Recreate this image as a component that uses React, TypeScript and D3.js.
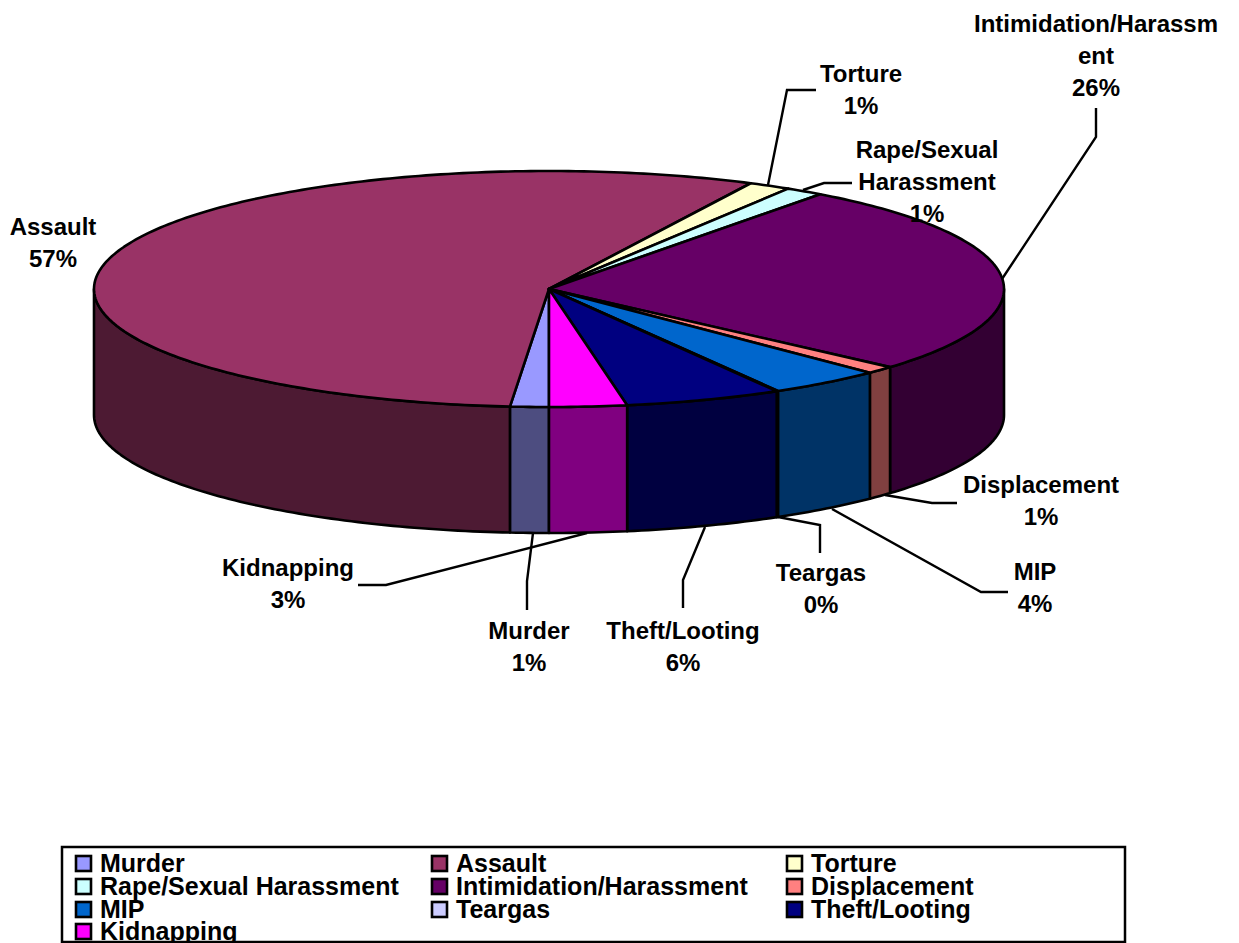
import React from "react";
import * as d3 from "d3";

const categories = ["Murder","Assault","Torture","Rape/Sexual Harassment","Intimidation/Harassment","Displacement","MIP","Teargas","Theft/Looting","Kidnapping"];
const shares = [1.37,56,1.5,1.36,26.37,1.03,4.07,0.05,5.6,2.75];
const percentLabels = ["1%","57%","1%","1%","26%","1%","4%","0%","6%","3%"];
const topColors = ["#9999FF","#993366","#FFFFCC","#CCFFFF","#660066","#FF8080","#0066CC","#CCCCFF","#000080","#FF00FF"];
const labelLines = [["Murder"],["Assault"],["Torture"],["Rape/Sexual","Harassment"],["Intimidation/Harassm","ent"],["Displacement"],["MIP"],["Teargas"],["Theft/Looting"],["Kidnapping"]];

// layout
const W = 1239, H = 943;
const CX = 549, CY = 289, RX = 455, RY = 118, DEPTH = 126;
const labelCentre: [number, number][] = [[529,639],[53,235],[861,82],[927,158],[1096,32],[1041,493],[1035,580],[821,581],[683,639],[288,576]];
const leaders: (number[][] | null)[] = [
  [[533,533],[527,581],[527,610]],
  null,
  [[768,185],[787,90],[816,90]],
  [[803,190],[824,183],[852,183]],
  [[1002,279],[1096,137],[1096,108]],
  [[885,495],[932,503],[957,503]],
  [[832,509],[981,592],[1008,592]],
  [[778,517],[820,525],[820,553]],
  [[705,527],[683,580],[683,608]],
  [[587,533],[386,585],[358,585]],
];
const legendCols = [75,431,786];
const legendRows = [864,887,910,932];

const FONT = "'Liberation Sans', Arial, sans-serif";
const LABEL_SIZE = 24, LINE_GAP = 32, LEGEND_SIZE = 25;

const x = (a: number) => CX + RX * Math.sin(a);
const y = (a: number) => CY - RY * Math.cos(a);

function arcPts(a0: number, a1: number, dy = 0) {
  const n = Math.max(2, Math.ceil(Math.abs(a1 - a0) * 60));
  return d3.range(n + 1).map(i => {
    const a = a0 + (a1 - a0) * i / n;
    return [x(a), y(a) + dy] as [number, number];
  });
}
const line = d3.line();

export default function App() {
  const pie = d3.pie<number>().sort(null).startAngle(Math.PI).endAngle(3 * Math.PI);
  const arcs = pie(shares);
  const dark = (c: string) => {
    const r = d3.rgb(c);
    return d3.rgb(r.r / 2, r.g / 2, r.b / 2).formatHex();
  };
  const walls = arcs.map((d, i) => {
    const segs: [number, number][] = [];
    for (const off of [0, 2 * Math.PI]) {
      const lo = Math.max(d.startAngle, Math.PI / 2 + off);
      const hi = Math.min(d.endAngle, 1.5 * Math.PI + off);
      if (hi > lo) segs.push([lo, hi]);
    }
    return segs.map(([lo, hi], k) => {
      const pts = [...arcPts(lo, hi), ...arcPts(hi, lo, DEPTH)];
      return <path key={i + "-" + k} d={line(pts)! + "Z"} fill={dark(topColors[i])} stroke="#000" strokeWidth={2.6} strokeLinejoin="round" />;
    });
  });
  return (
    <svg width={W} height={H} style={{ position: "absolute", left: 0, top: 0, background: "#fff" }} fontFamily={FONT} fontWeight="bold">
      <g>{walls}</g>
      <g>
        {arcs.map((d, i) => (
          <path key={i} d={line([[CX, CY], ...arcPts(d.startAngle, d.endAngle)])! + "Z"} fill={topColors[i]} stroke="#000" strokeWidth={2.6} strokeLinejoin="round" />
        ))}
      </g>
      <g fill="none" stroke="#000" strokeWidth={2.4}>
        {leaders.map((l, i) => l && <path key={i} d={line(l as [number, number][])!} />)}
      </g>
      <g textAnchor="middle" fontSize={LABEL_SIZE} fill="#000">
        {categories.map((c, i) => {
          const lines = [...labelLines[i], percentLabels[i]];
          return (
            <text key={c} x={labelCentre[i][0]} y={labelCentre[i][1]}>
              {lines.map((t, k) => <tspan key={k} x={labelCentre[i][0]} dy={k === 0 ? 0 : LINE_GAP}>{t}</tspan>)}
            </text>
          );
        })}
      </g>
      <rect x={62} y={847} width={1063} height={95} fill="none" stroke="#000" strokeWidth={2.5} />
      <g fontSize={LEGEND_SIZE}>
        {categories.map((c, i) => {
          const lx = legendCols[i % 3], ly = legendRows[Math.floor(i / 3)];
          return (
            <g key={c}>
              <rect x={lx + 1} y={ly - 8} width={15} height={15} fill={topColors[i]} stroke="#000" strokeWidth={2.6} />
              <text x={lx + 25} y={ly + 8}>{c}</text>
            </g>
          );
        })}
      </g>
    </svg>
  );
}
